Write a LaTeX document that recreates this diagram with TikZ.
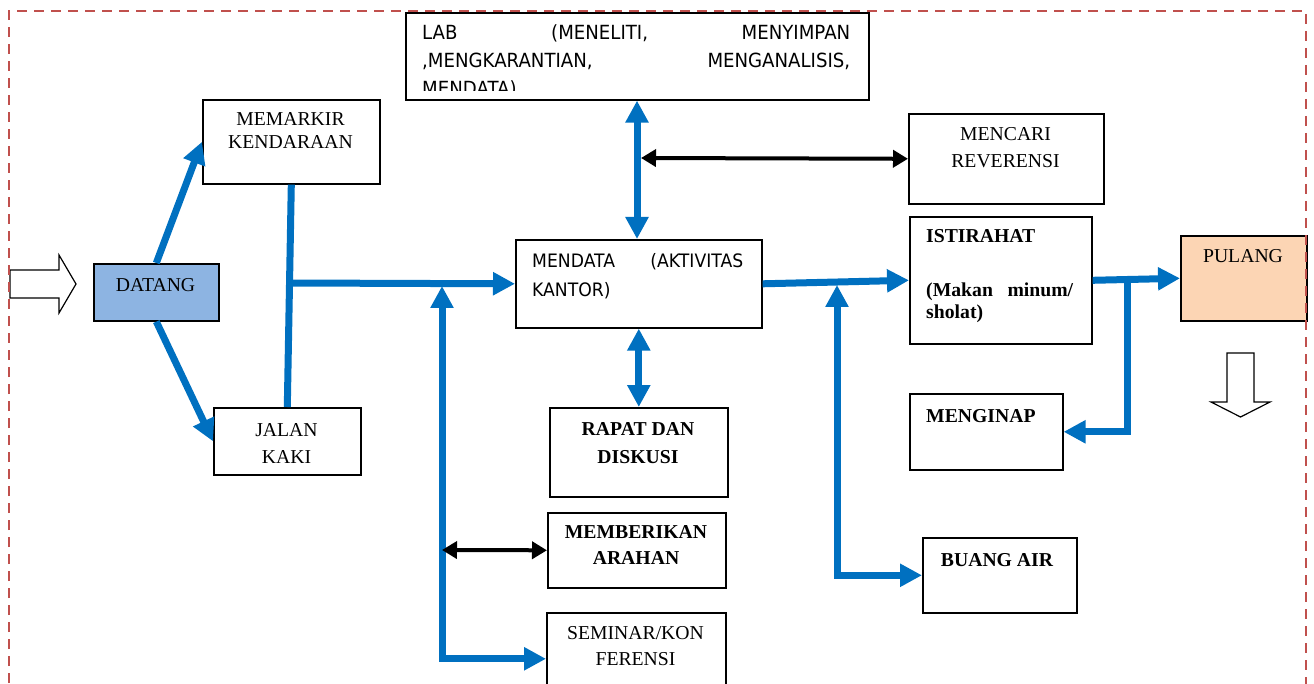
\documentclass[tikz,border=0pt]{standalone}
\usepackage{fontspec}
\setmainfont{Liberation Serif}
\newfontfamily\sansf[FakeStretch=0.93]{DejaVu Sans}
\usetikzlibrary{arrows.meta}
\definecolor{bl}{HTML}{0070C0}
\definecolor{dashred}{HTML}{C0504D}
\definecolor{datfill}{HTML}{8DB4E2}
\definecolor{pulfill}{HTML}{FCD5B4}
\begin{document}
\begin{tikzpicture}[x=1pt,y=-1pt,
  box/.style={draw=black,line width=1.6pt,fill=white,inner sep=0pt,anchor=north west},
  txt/.style={anchor=base,inner sep=0pt,font=\fontsize{19.7}{23}\selectfont},
  btxt/.style={txt,font=\fontsize{19.7}{23}\selectfont\bfseries},
  stxt/.style={anchor=base west,inner sep=0pt,font=\sansf\fontsize{19.5}{28}\selectfont},
  blue arrow/.style={draw=bl,line width=7pt,-{Triangle[length=22pt,width=22pt]}},
  blue both/.style={draw=bl,line width=7pt,{Triangle[length=22pt,width=22pt]}-{Triangle[length=22pt,width=22pt]}},
  black both/.style={draw=black,line width=4pt,{Triangle[length=15pt,width=17pt]}-{Triangle[length=15pt,width=17pt]}},
  hollow/.style={draw=black,line width=1.2pt,fill=white,line join=miter}]
\useasboundingbox (0,0) rectangle (1314,684);
\begin{scope}
\clip (0,0) rectangle (1314,684);

% boxes
\node[box,minimum width=463pt,minimum height=87pt] (lab) at (405,12) {};
\node[box,minimum width=177pt,minimum height=84pt] (mem) at (202,99) {};
\node[box,fill=datfill,minimum width=125pt,minimum height=57pt] (dat) at (93,263) {};
\node[box,minimum width=147pt,minimum height=67pt] (jal) at (213,407) {};
\node[box,minimum width=246pt,minimum height=88pt] (mdt) at (515,239) {};
\node[box,minimum width=178pt,minimum height=89pt] (rpt) at (549,407) {};
\node[box,minimum width=178pt,minimum height=75pt] (mbr) at (547,512) {};
\node[box,minimum width=179pt,minimum height=92pt] (sem) at (546,612) {};
\node[box,minimum width=195pt,minimum height=90pt] (mcr) at (908,113) {};
\node[box,minimum width=182pt,minimum height=127pt] (ist) at (909,216) {};
\node[box,fill=pulfill,minimum width=126pt,minimum height=85pt] (pul) at (1180,235) {};
\node[box,minimum width=153pt,minimum height=76pt] (mgn) at (909,393) {};
\node[box,minimum width=154pt,minimum height=75pt] (bng) at (922,537) {};

% texts
\begin{scope}
\clip (405,12) rectangle (868,91);
\node[stxt] (labt1) at (422,40) {\hbox to 428pt{LAB\hfill(MENELITI,\hfill MENYIMPAN}};
\node[stxt] (labt2) at (422,68) {\hbox to 428pt{,MENGKARANTIAN,\hfill MENGANALISIS,}};
\node[stxt] (labt3) at (422,96) {MENDATA)};
\end{scope}
\node[txt] (memt1) at (290.5,126) {MEMARKIR};
\node[txt] (memt2) at (290.5,149) {KENDARAAN};
\node[txt] (datt) at (155.5,292) {DATANG};
\node[txt] (jalt1) at (286.5,436) {JALAN};
\node[txt] (jalt2) at (286.5,463) {KAKI};
\node[stxt,font=\sansf\fontsize{18.5}{28}\selectfont] (mdtt1) at (532,268) {\hbox to 211pt{MENDATA\hfill(AKTIVITAS}};
\node[stxt,font=\sansf\fontsize{18.5}{28}\selectfont] (mdtt2) at (532,297) {KANTOR)};
\node[btxt] (rptt1) at (638,435) {RAPAT DAN};
\node[btxt] (rptt2) at (638,463) {DISKUSI};
\node[btxt] (mbrt1) at (636,538) {MEMBERIKAN};
\node[btxt] (mbrt2) at (636,564) {ARAHAN};
\node[txt] (semt1) at (635.5,639) {SEMINAR/KON};
\node[txt] (semt2) at (635.5,665) {FERENSI};
\node[txt] (mcrt1) at (1005.5,141) {MENCARI};
\node[txt] (mcrt2) at (1005.5,168) {REVERENSI};
\node[btxt,anchor=base west] (istt1) at (926,243) {ISTIRAHAT};
\node[btxt,anchor=base west] (istt2) at (926,297) {\hbox to 147pt{(Makan\hfill minum/}};
\node[btxt,anchor=base west] (istt3) at (926,319) {sholat)};
\node[txt] (pult) at (1243,263) {PULANG};
\node[btxt,anchor=base west] (mgnt) at (926,422) {MENGINAP};
\node[btxt] (bngt) at (997,566) {BUANG AIR};

% junction coordinates
\coordinate (j1) at (289,283);
\coordinate (j2) at (442,286);
\coordinate (j4) at (442,550);
\coordinate (j5) at (641,158);
\coordinate (j6) at (837,285);
\coordinate (j7) at (1127,280);

% connectors
\draw[blue arrow] (dat.north) -- (mem.west);
\draw[blue arrow] (dat.south) -- (jal.west);
\draw[draw=bl,line width=7pt] (mem.south) -- (jal.north);
\draw[blue arrow] (j1) -- (mdt.west);
\draw[blue both] (j2) |- (sem.west);
\draw[black both] (j4) -- (mbr.west);
\draw[blue both] (lab.south -| 637,0) -- (mdt.north -| 637,0);
\draw[black both] (j5) -- (mcr.west);
\draw[blue both] (mdt.south) -- (rpt.north);
\draw[blue arrow] (mdt.east) -- (ist.west);
\draw[blue both] (j6) |- (bng.west);
\draw[blue arrow] (ist.east) -- (pul.west);
\draw[blue arrow,shorten <=-3.5pt] (j7) |- (mgn.east);

% hollow arrows
\draw[hollow] (10,270) -- (59,270) -- (59,255) -- (76,284) -- (59,313) -- (59,298) -- (10,298) -- cycle;
\draw[hollow] (1227,353) -- (1254,353) -- (1254,402) -- (1270,402) -- (1240.5,417) -- (1211,402) -- (1227,402) -- cycle;

% dashed frame
\draw[dashred,line width=2pt,dash pattern=on 10pt off 7pt] (9,700) -- (9,11) -- (1306,11) -- (1306,700);
\end{scope}
\end{tikzpicture}
\end{document}
